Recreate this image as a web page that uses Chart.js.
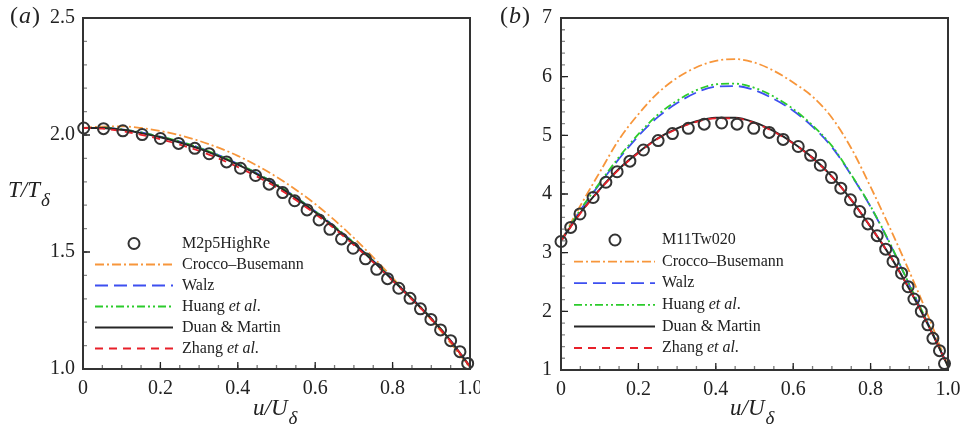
<!DOCTYPE html>
<html>
<head>
<meta charset="utf-8">
<script src="https://cdn.jsdelivr.net/npm/chart.js@4/dist/chart.umd.min.js"></script>
<style>
  html, body { margin: 0; padding: 0; background: #fff; }
  #wrap { position: relative; width: 962px; height: 434px; }
  .pane { position: absolute; top: 0; }
</style>
</head>
<body>
<div id="wrap">
  <div class="pane" style="left:0"><canvas id="ca" width="480" height="434"></canvas></div>
  <div class="pane" style="left:480px"><canvas id="cb" width="482" height="434"></canvas></div>
</div>
<script>
// ---- data ----
const uGrid = [0, 0.05, 0.1, 0.15, 0.2, 0.25, 0.3, 0.35, 0.4, 0.45, 0.5,
               0.55, 0.6, 0.65, 0.7, 0.75, 0.8, 0.85, 0.9, 0.95, 1.0];

// (a) M2p5HighRe
const uDnsA = [0.002, 0.053, 0.103, 0.153, 0.2, 0.247, 0.289, 0.326, 0.371, 0.407,
               0.446, 0.481, 0.516, 0.547, 0.579, 0.61, 0.638, 0.668, 0.698, 0.73,
               0.759, 0.787, 0.816, 0.845, 0.872, 0.899, 0.924, 0.95, 0.974, 0.994];
const tDnsA = [2.03, 2.027, 2.018, 2.002, 1.985, 1.964, 1.943, 1.92, 1.885, 1.858,
               1.827, 1.79, 1.754, 1.719, 1.68, 1.637, 1.597, 1.556, 1.516, 1.471,
               1.426, 1.386, 1.345, 1.302, 1.257, 1.212, 1.167, 1.121, 1.074, 1.024];
const croccoA = [2.03, 2.036, 2.037, 2.03, 2.017, 1.999, 1.975, 1.946, 1.911, 1.869, 1.821,
                 1.766, 1.705, 1.636, 1.56, 1.477, 1.39, 1.3, 1.21, 1.11, 1.005];
const walzA   = [2.03, 2.031, 2.024, 2.011, 1.993, 1.972, 1.946, 1.914, 1.877, 1.836, 1.789,
                 1.734, 1.674, 1.609, 1.539, 1.463, 1.383, 1.302, 1.217, 1.121, 1.01];
const huangA  = [2.03, 2.031, 2.024, 2.011, 1.993, 1.972, 1.946, 1.914, 1.877, 1.836, 1.789,
                 1.734, 1.674, 1.609, 1.539, 1.463, 1.383, 1.302, 1.217, 1.121, 1.01];
const duanA   = [2.03, 2.03, 2.022, 2.008, 1.99, 1.968, 1.942, 1.91, 1.873, 1.832, 1.785,
                 1.73, 1.67, 1.605, 1.535, 1.46, 1.38, 1.3, 1.215, 1.12, 1.01];
const zhangA  = [2.03, 2.027, 2.017, 2.001, 1.982, 1.959, 1.932, 1.9, 1.863, 1.822, 1.776,
                 1.722, 1.663, 1.599, 1.53, 1.456, 1.377, 1.297, 1.213, 1.118, 1.01];

// (b) M11Tw020
const uDnsB = [0, 0.025, 0.049, 0.083, 0.116, 0.145, 0.178, 0.213, 0.251, 0.288, 0.329, 0.37,
               0.415, 0.455, 0.498, 0.538, 0.574, 0.613, 0.645, 0.67, 0.699, 0.723, 0.748,
               0.772, 0.793, 0.817, 0.839, 0.858, 0.88, 0.897, 0.912, 0.931, 0.948, 0.961,
               0.978, 0.991];
const tDnsB = [3.19, 3.43, 3.66, 3.94, 4.2, 4.38, 4.56, 4.75, 4.91, 5.03, 5.12, 5.19,
               5.21, 5.19, 5.12, 5.05, 4.93, 4.81, 4.66, 4.49, 4.28, 4.1, 3.9,
               3.7, 3.49, 3.29, 3.06, 2.85, 2.65, 2.42, 2.21, 2.0, 1.77, 1.54,
               1.33, 1.11];
const croccoB = [3.2, 3.8, 4.37, 4.93, 5.36, 5.72, 5.98, 6.16, 6.27, 6.3, 6.24,
                 6.1, 5.9, 5.66, 5.3, 4.78, 4.12, 3.42, 2.68, 1.9, 1.06];
const walzB   = [3.2, 3.72, 4.17, 4.6, 4.99, 5.31, 5.55, 5.73, 5.83, 5.84, 5.77,
                 5.62, 5.42, 5.15, 4.8, 4.32, 3.78, 3.15, 2.45, 1.77, 1.06];
const huangB  = [3.2, 3.73, 4.19, 4.63, 5.02, 5.35, 5.59, 5.77, 5.87, 5.88, 5.81,
                 5.66, 5.45, 5.17, 4.82, 4.33, 3.79, 3.16, 2.46, 1.77, 1.06];
const duanB   = [3.2, 3.68, 4.08, 4.43, 4.71, 4.95, 5.12, 5.24, 5.3, 5.3, 5.22,
                 5.07, 4.87, 4.62, 4.3, 3.9, 3.44, 2.95, 2.38, 1.75, 1.06];
const zhangB  = [3.2, 3.67, 4.07, 4.42, 4.7, 4.94, 5.11, 5.23, 5.29, 5.29, 5.21,
                 5.06, 4.86, 4.61, 4.29, 3.9, 3.44, 2.95, 2.38, 1.75, 1.06];

const SERIF = '"Liberation Serif", "Times New Roman", serif';

const models = [
  { key: 'crocco', label: [['Crocco–Busemann', false]], color: '#f7963b', dash: [9, 3, 2, 3], width: 1.8 },
  { key: 'walz',   label: [['Walz', false]], color: '#3d4ff0', dash: [13, 6], width: 1.8 },
  { key: 'huang',  label: [['Huang ', false], ['et al', true], ['.', false]], color: '#2ccb2c', dash: [8, 3, 2, 3, 2, 3], width: 1.8 },
  { key: 'duan',   label: [['Duan & Martin', false]], color: '#262626', dash: [], width: 2 },
  { key: 'zhang',  label: [['Zhang ', false], ['et al', true], ['.', false]], color: '#e8202a', dash: [8, 6], width: 1.8 }
];

function pts(xs, ys) { return xs.map((x, i) => ({ x: x, y: ys[i] })); }

function makePanel(id, p) {
  // circles first so they are painted on top
  const datasets = [{
    data: pts(p.uDns, p.tDns), showLine: false, pointStyle: 'circle',
    pointRadius: 5.5, pointHoverRadius: 5.5, pointBorderWidth: 2,
    pointBorderColor: '#333', pointBackgroundColor: 'rgba(0,0,0,0)', clip: false
  }];
  // draw order: red over black over green over blue over orange
  ['zhang', 'duan', 'huang', 'walz', 'crocco'].forEach(k => {
    const m = models.find(mm => mm.key === k);
    datasets.push({
      data: pts(uGrid, p.lines[k]), showLine: true, pointRadius: 0,
      borderColor: m.color, borderWidth: m.width, borderDash: m.dash,
      cubicInterpolationMode: 'monotone', fill: false, clip: false
    });
  });

  const deco = {
    id: 'deco' + id,
    afterDatasetsDraw(chart) {
      const ctx = chart.ctx, a = chart.chartArea;
      const xs = chart.scales.x, ys = chart.scales.y;
      ctx.save();
      // minor / major ticks, inward
      function tickRun(scale, step, len, color, horiz) {
        const n = Math.round((scale.max - scale.min) / step);
        ctx.strokeStyle = color; ctx.lineWidth = 1.3; ctx.setLineDash([]);
        ctx.beginPath();
        for (let i = 0; i <= n; i++) {
          const px = scale.getPixelForValue(scale.min + i * step);
          if (horiz) { ctx.moveTo(px, a.bottom); ctx.lineTo(px, a.bottom - len); }
          else { ctx.moveTo(a.left, px); ctx.lineTo(a.left + len, px); }
        }
        ctx.stroke();
      }
      tickRun(xs, 0.05, 4, '#777', true);
      tickRun(xs, 0.2, 7, '#222', true);
      tickRun(ys, p.yMinor, 4, '#888', false);
      tickRun(ys, p.yMajor, 7, '#222', false);
      // frame
      ctx.strokeStyle = '#333'; ctx.lineWidth = 2;
      ctx.strokeRect(a.left, a.top, a.right - a.left, a.bottom - a.top);

      // legend
      ctx.textBaseline = 'middle'; ctx.fillStyle = '#222';
      const L = p.legend;
      for (let r = 0; r < 6; r++) {
        const y = L.y0 + r * L.dy;
        if (r === 0) {
          ctx.setLineDash([]); ctx.strokeStyle = '#333'; ctx.lineWidth = 2;
          ctx.beginPath(); ctx.arc(L.mx, y, 5.5, 0, Math.PI * 2); ctx.stroke();
          ctx.font = '16px ' + SERIF;
          ctx.fillText(p.caseName, L.tx, y);
          continue;
        }
        const m = models[r - 1];
        ctx.setLineDash(m.dash); ctx.strokeStyle = m.color; ctx.lineWidth = m.width;
        ctx.beginPath(); ctx.moveTo(L.x1, y); ctx.lineTo(L.x2, y); ctx.stroke();
        let tx = L.tx;
        m.label.forEach(seg => {
          ctx.font = (seg[1] ? 'italic ' : '') + '16px ' + SERIF;
          ctx.fillText(seg[0], tx, y);
          tx += ctx.measureText(seg[0]).width;
        });
      }
      ctx.setLineDash([]);

      // axis titles
      ctx.textBaseline = 'alphabetic';
      function subLabel(x, y, main, sub) {
        ctx.font = 'italic 23px ' + SERIF;
        ctx.fillText(main, x, y);
        const w = ctx.measureText(main).width;
        ctx.font = 'italic 19px ' + SERIF;
        ctx.fillText(sub, x + w + 1, y + 9);
      }
      subLabel(p.xTitle[0], p.xTitle[1], 'u/U', 'δ');
      if (p.yTitle) subLabel(p.yTitle[0], p.yTitle[1], 'T/T', 'δ');

      // panel tag
      let tx = p.tag[0];
      [['(', false], [p.tag[2], true], [')', false]].forEach(seg => {
        ctx.font = (seg[1] ? 'italic ' : '') + '24px ' + SERIF;
        ctx.fillText(seg[0], tx, p.tag[1]);
        tx += ctx.measureText(seg[0]).width + 1;
      });
      ctx.restore();
    }
  };

  return new Chart(document.getElementById(id), {
    type: 'scatter',
    data: { datasets: datasets },
    options: {
      responsive: false,
      animation: false,
      events: [],
      layout: { padding: { top: 18, right: p.padR, left: 0, bottom: 0 } },
      plugins: { legend: { display: false }, tooltip: { enabled: false } },
      scales: {
        x: {
          type: 'linear', min: 0, max: 1,
          border: { display: false },
          grid: { display: false, drawTicks: false },
          ticks: {
            stepSize: 0.2, padding: 8, color: '#222', maxRotation: 0,
            font: { family: SERIF, size: 20 },
            callback: v => (Math.abs(v) < 1e-9 ? '0' : v.toFixed(1))
          },
          afterFit: s => { s.height = p.xAxisH; s.paddingLeft = 0; s.paddingRight = 0; }
        },
        y: {
          type: 'linear', min: p.yMin, max: p.yMax,
          border: { display: false },
          grid: { display: false, drawTicks: false },
          ticks: {
            stepSize: p.yMajor, padding: p.yPad, color: '#222',
            font: { family: SERIF, size: 20 },
            callback: v => v.toFixed(p.yDec)
          },
          afterFit: s => { s.width = p.yAxisW; s.paddingTop = 0; s.paddingBottom = 0; }
        }
      }
    },
    plugins: [deco]
  });
}

makePanel('ca', {
  caseName: 'M2p5HighRe', uDns: uDnsA, tDns: tDnsA,
  lines: { crocco: croccoA, walz: walzA, huang: huangA, duan: duanA, zhang: zhangA },
  yMin: 1.0, yMax: 2.5, yMajor: 0.5, yMinor: 0.1, yDec: 1, yPad: 8,
  yAxisW: 83, xAxisH: 65, padR: 10,
  legend: { y0: 243.5, dy: 21, mx: 134, x1: 95, x2: 173, tx: 182 },
  xTitle: [253, 415], yTitle: [8, 197], tag: [10, 23, 'a']
});

makePanel('cb', {
  caseName: 'M11Tw020', uDns: uDnsB, tDns: tDnsB,
  lines: { crocco: croccoB, walz: walzB, huang: huangB, duan: duanB, zhang: zhangB },
  yMin: 1, yMax: 7, yMajor: 1, yMinor: 0.2, yDec: 0, yPad: 9,
  yAxisW: 81, xAxisH: 64, padR: 14,
  legend: { y0: 240, dy: 21.6, mx: 135, x1: 94, x2: 175, tx: 182 },
  xTitle: [250, 415], yTitle: null, tag: [20, 23, 'b']
});
</script>
</body>
</html>
